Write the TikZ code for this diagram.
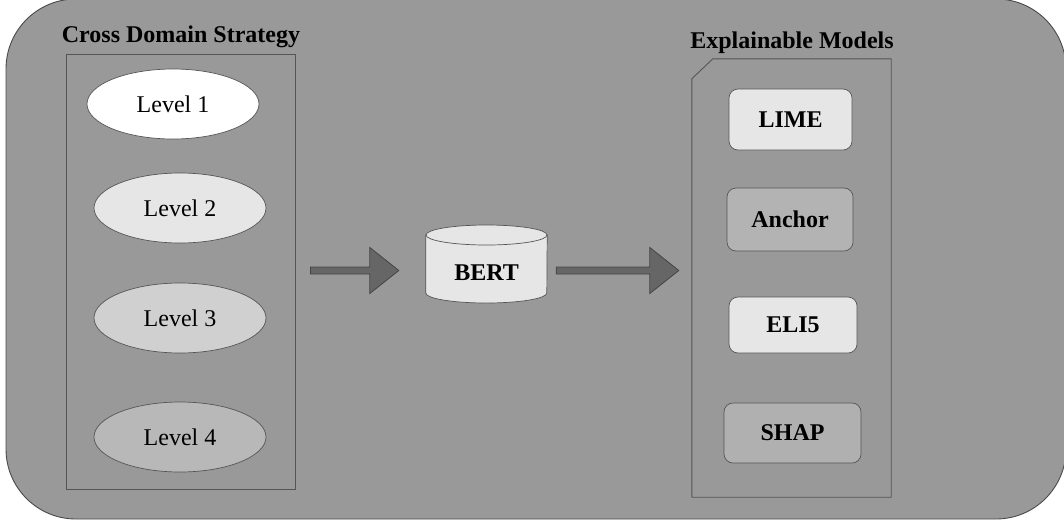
\documentclass[tikz,border=0pt]{standalone}
\usepackage{fontspec}
\setmainfont{Liberation Serif}
\usetikzlibrary{shapes.geometric,calc}
\definecolor{bg}{HTML}{999999}
\definecolor{edgec}{HTML}{555555}
\definecolor{outerc}{HTML}{4A4A4A}
\definecolor{lt}{HTML}{E6E6E6}
\definecolor{fillthree}{HTML}{D0D0D0}
\definecolor{fillfour}{HTML}{B8B8B8}
\definecolor{midc}{HTML}{B3B3B3}
\definecolor{shapc}{HTML}{B0B0B0}
\definecolor{arrc}{HTML}{666666}
\definecolor{arredge}{HTML}{444444}
\newcommand{\BlkArrow}[2]{%
  \draw[blockarrow] ($(#1)+(0,-3.5)$) -- ($(#2)+(-29,-3.5)$) -- ($(#2)+(-29,-23)$) -- (#2)
    -- ($(#2)+(-29,23)$) -- ($(#2)+(-29,3.5)$) -- ($(#1)+(0,3.5)$) -- cycle;}
\begin{document}
\begin{tikzpicture}[x=1pt,y=-1pt,
  lvl/.style={ellipse, draw=edgec, line width=0.7pt, minimum width=172pt, minimum height=70pt, inner sep=0pt, font=\fontsize{24}{28}\selectfont},
  model/.style={rectangle, rounded corners=9pt, draw=edgec, line width=0.7pt, inner sep=0pt, font=\bfseries\fontsize{24}{28}\selectfont},
  title/.style={font=\bfseries\fontsize{24}{28}\selectfont, anchor=base, inner sep=0pt},
  container/.style={draw=edgec, line width=0.9pt, fill=bg},
  blockarrow/.style={fill=arrc, draw=arredge, line width=0.8pt, line join=miter}]
\useasboundingbox (0,0) rectangle (1064,523);
\clip (0,0) rectangle (1064,523);
\fill[white] (0,0) rectangle (1064,523);
% outer panel
\draw[fill=bg, draw=outerc, line width=0.9pt, rounded corners=70pt] (6,-1) rectangle (1066,519);

% left container
\node[container, rectangle, minimum width=229pt, minimum height=435pt, inner sep=0pt] (cds) at (180.5,271.5) {};
\node[title] (cdst) at (181,42) {Cross Domain Strategy};
\node[lvl, fill=white] (l1) at (173,104) {Level 1};
\node[lvl, fill=lt] (l2) at (180,208) {Level 2};
\node[lvl, fill=fillthree] (l3) at (180,318) {Level 3};
\node[lvl, fill=fillfour] (l4) at (180,437) {Level 4};

% BERT cylinder
\node[minimum width=121pt, minimum height=78pt, inner sep=0pt] (bert) at (486.5,264) {};
\draw[fill=lt, draw=edgec, line width=0.7pt] (bert.west |- 0,235) -- (bert.west |- 0,293)
  arc[start angle=180, end angle=0, x radius=60.5, y radius=10] -- (bert.east |- 0,235) -- cycle;
\draw[fill=lt, draw=edgec, line width=0.7pt] (bert.center |- 0,235) ellipse [x radius=60.5, y radius=10];
\node[font=\bfseries\fontsize{24}{28}\selectfont, inner sep=0pt] (bertt) at (486.5,273) {BERT};

% right container
\node[minimum width=199pt, minimum height=438pt, inner sep=0pt] (em) at (791.5,278) {};
\draw[container] (em.south west) -- ($(em.north west)+(0,20)$) -- ($(em.north west)+(21,0)$)
  -- (em.north east) -- (em.south east) -- cycle;
\node[title] (emt) at (792,48) {Explainable Models};
\node[model, fill=lt, minimum width=123pt, minimum height=61pt] (lime) at (790.5,119.5) {LIME};
\node[model, fill=midc, minimum width=126pt, minimum height=63pt] (anchor) at (790,219.5) {Anchor};
\node[model, fill=lt, minimum width=128pt, minimum height=56pt] (eli) at (793,325) {ELI5};
\node[model, fill=shapc, minimum width=137pt, minimum height=60pt] (shap) at (792.5,433) {SHAP};

% block arrows
\coordinate (a1s) at ($(cds.east |- 0,270.5)+(15,0)$);
\coordinate (a1e) at ($(bert.west |- 0,270.5)+(-27,0)$);
\coordinate (a2s) at ($(bert.east |- 0,270.5)+(9,0)$);
\coordinate (a2e) at ($(em.west |- 0,270.5)+(-13,0)$);
\BlkArrow{a1s}{a1e}
\BlkArrow{a2s}{a2e}
\end{tikzpicture}
\end{document}
